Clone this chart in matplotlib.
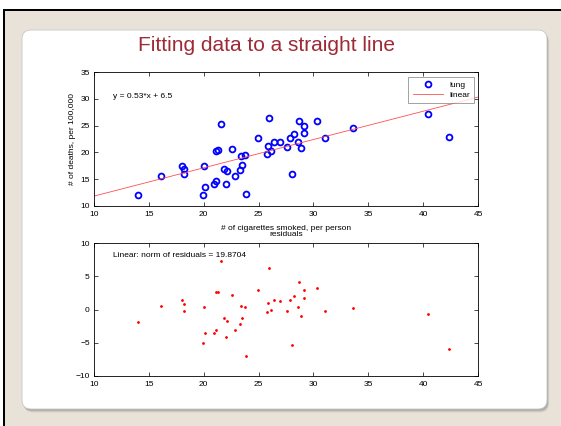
import numpy as np
import matplotlib
matplotlib.use("Agg")
import matplotlib.pyplot as plt
from matplotlib.patches import FancyBboxPatch, Rectangle

plt.rcParams['font.family'] = ['Liberation Sans', 'DejaVu Sans']

# ---- data ----
cigarettes = [14.04, 16.10, 18.05, 18.17, 18.23, 19.96, 20.05, 20.11, 20.93, 21.14,
              21.14, 21.26, 21.57, 21.81, 22.05, 22.14, 22.60, 22.84, 23.30, 23.45,
              23.42, 23.78, 23.81, 24.97, 25.79, 25.88, 25.91, 26.15, 26.39, 26.91,
              27.55, 27.85, 28.03, 28.25, 28.58, 28.64, 28.91, 29.13, 29.16, 30.31,
              31.07, 33.59, 40.42, 42.33]
lung_deaths = [12.00, 15.56, 17.44, 16.94, 15.94, 12.06, 17.50, 13.56, 14.06, 14.56,
               20.31, 20.44, 25.31, 16.81, 14.10, 16.50, 20.69, 15.50, 16.63, 17.69,
               19.38, 19.44, 12.13, 22.63, 19.75, 21.19, 26.44, 20.25, 21.88, 22.00,
               20.94, 22.69, 15.94, 23.50, 22.00, 25.88, 20.88, 24.94, 23.63, 25.81,
               22.75, 24.50, 27.19, 22.94]
fit_slope = 0.53
fit_intercept = 6.5
fit_label = "y = 0.53*x + 6.5"
norm_label = "Linear: norm of residuals = 19.8704"
x_ticks = [10, 15, 20, 25, 30, 35, 40, 45]
y_ticks_top = [10, 15, 20, 25, 30, 35]
y_ticks_bottom = [-10, -5, 0, 5, 10]

x = np.array(cigarettes)
y = np.array(lung_deaths)
residuals = y - (fit_slope * x + fit_intercept)

W, H = 561, 426
fig = plt.figure(figsize=(W / 100, H / 100), dpi=100)
fig.patch.set_facecolor('#E8E2D9')

# ---- slide background ----
bg = fig.add_axes([0, 0, 1, 1], zorder=-10)
bg.set_xlim(0, W)
bg.set_ylim(H, 0)
bg.axis('off')
bg.add_patch(Rectangle((0, 0), W, 9, fc='white', ec='none'))
bg.add_patch(Rectangle((0, 0), 3, H, fc='white', ec='none'))
bg.add_patch(Rectangle((3, 9), W, 2, fc='black', ec='none'))
bg.add_patch(Rectangle((3, 9), 2, H, fc='black', ec='none'))
for off, a in [(3.5, 0.15), (2.5, 0.25), (1.5, 0.35)]:
    bg.add_patch(FancyBboxPatch((22 + off * 0.6, 30 + off), 525, 379,
                                boxstyle='round,pad=0,rounding_size=9',
                                fc='#808078', ec='none', alpha=a))
bg.add_patch(FancyBboxPatch((22, 30), 525, 379,
                            boxstyle='round,pad=0,rounding_size=9',
                            fc='white', ec='#C8C8C8', lw=0.6))

fig.text(267 / W, 1 - 50.8 / H, "Fitting data to a straight line",
         ha='center', va='baseline', fontsize=15, color='#9E2A36')

def style(ax):
    ax.tick_params(direction='in', length=3, width=0.5, labelsize=6,
                   top=True, right=True)
    ax.tick_params(axis='x', pad=4)
    ax.tick_params(axis='y', pad=3)
    for s in ax.spines.values():
        s.set_linewidth(0.6)

# ---- top axes ----
ax1 = fig.add_axes([94 / W, 1 - 205.7 / H, 384 / W, 133.4 / H])
ax1.plot(x, y, 'o', ms=4.2, mfc='none', mec='blue', mew=1.3, label='lung')
xl = np.array([10, 45])
ax1.plot(xl, fit_slope * xl + fit_intercept, '-', color='#FF5050', lw=0.6,
         label='linear')
ax1.set_xlim(10, 45)
ax1.set_ylim(10, 35)
ax1.set_xticks(x_ticks)
ax1.set_yticks(y_ticks_top)
ax1.set_xlabel("# of cigarettes smoked, per person", fontsize=6, labelpad=4.5)
ax1.set_ylabel("# of deaths, per 100,000", fontsize=6, labelpad=3)
ax1.text(0.049, 0.815, fit_label, transform=ax1.transAxes, fontsize=6,
         va='center', ha='left')
leg = ax1.legend(loc='upper right', bbox_to_anchor=(0.99, 0.965), fontsize=6,
                 frameon=True, fancybox=False, edgecolor='#777777',
                 borderpad=0.5, handlelength=3.6, labelspacing=0.3,
                 handletextpad=0.8, borderaxespad=0)
leg.get_frame().set_linewidth(0.6)
style(ax1)

# ---- bottom axes ----
ax2 = fig.add_axes([94 / W, 1 - 375.7 / H, 384 / W, 132.4 / H])
ax2.plot(x, residuals, '.', color='red', ms=2.0)
ax2.set_xlim(10, 45)
ax2.set_ylim(-10, 10)
ax2.set_xticks(x_ticks)
ax2.set_yticks(y_ticks_bottom)
ax2.set_title("residuals", fontsize=6, pad=5)
ax2.text(0.049, 0.91, norm_label, transform=ax2.transAxes, fontsize=6,
         va='center', ha='left')
style(ax2)

fig.savefig("out.png", dpi=100, facecolor=fig.get_facecolor())
